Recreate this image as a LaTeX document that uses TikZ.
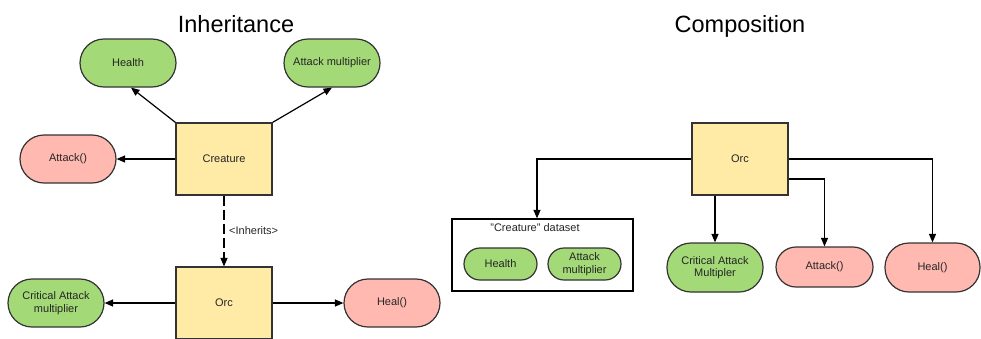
\documentclass[tikz,border=0pt]{standalone}
\usepackage{fontspec}
\setmainfont{Liberation Sans}
\usetikzlibrary{arrows.meta}

\definecolor{boxyellow}{HTML}{FFEBA6}
\definecolor{pillgreen}{HTML}{A3D977}
\definecolor{pillred}{HTML}{FFB9B0}
\definecolor{inkline}{HTML}{333333}

\tikzset{
  base/.style={draw=inkline, line width=1.2pt, inner sep=1pt, align=center,
    font=\fontsize{11}{12.5}\selectfont, text=black!85},
  classbox/.style={base, fill=boxyellow, minimum width=96pt, minimum height=72pt},
  pill/.style={base, minimum width=96pt, minimum height=48pt, rounded corners=24pt},
  smallpill/.style={base, minimum width=73pt, minimum height=32pt, rounded corners=16pt},
  datapill/.style={pill, fill=pillgreen},
  methodpill/.style={pill, fill=pillred},
  groupbox/.style={draw=black, line width=1.2pt, minimum width=181pt, minimum height=72pt},
  link/.style={draw=black, line width=1.2pt, -{Triangle[length=8.5pt,width=7pt]}},
  title/.style={font=\fontsize{23.5}{28}\selectfont, anchor=base, inner sep=0pt},
  note/.style={font=\fontsize{11}{12.5}\selectfont, inner sep=0pt, text=black!85}
}

\begin{document}
\begin{tikzpicture}[x=1pt, y=-1pt]
\useasboundingbox[fill=white] (0,0) rectangle (981,338);

% ---------------- Inheritance ----------------
\node[title] (tInh) at (236,32) {Inheritance};

\node[classbox] (creature) at (224,159) {Creature};
\node[datapill] (health) at (128,63) {Health};
\node[datapill] (mult) at (332,63) {Attack multiplier};
\node[methodpill] (attack) at (68,159) {Attack()};

\node[classbox] (orc) at (224,303) {Orc};
\node[datapill] (crit) at (56,303) {Critical Attack\\multiplier};
\node[methodpill] (heal) at (392,303) {Heal()};

\draw[link] (creature.north west) -- ([xshift=3pt]health.south);
\draw[link] (creature.north east) -- (mult.south);
\draw[link] (creature.west) -- (attack.east);
\draw[link, dash pattern=on 10pt off 4pt] (creature.south) -- (orc.north);
\node[note, anchor=base west] (inh) at (229,234) {<Inherits>};
\draw[link] (orc.west) -- (crit.east);
\draw[link] (orc.east) -- (heal.west);

% ---------------- Composition ----------------
\node[title] (tComp) at (740,32) {Composition};

\node[classbox] (orc2) at (740,159) {Orc};

\node[groupbox] (ds) at (542.5,255) {};
\node[note, anchor=base] (dslabel) at (535,231) {"Creature" dataset};
\node[smallpill, fill=pillgreen] (health2) at (500.5,264) {Health};
\node[smallpill, fill=pillgreen] (mult2) at (584.5,264) {Attack\\multiplier};

\node[datapill, minimum height=49pt] (crit2) at (715,267.5) {Critical Attack\\Multipler};
\node[methodpill, minimum width=97pt, minimum height=40pt, rounded corners=20pt] (atk2) at (824.5,267) {Attack()};
\node[methodpill, minimum width=95pt, minimum height=49pt] (heal2) at (932.5,267.5) {Heal()};

\draw[link] (orc2.west) -| ([xshift=-5.5pt]ds.north);
\draw[link] (orc2.south -| crit2.north) -- (crit2.north);
\draw[link] ([yshift=-20pt]orc2.east) -| (atk2.north);
\draw[link] (orc2.east) -| (heal2.north);
\end{tikzpicture}
\end{document}
